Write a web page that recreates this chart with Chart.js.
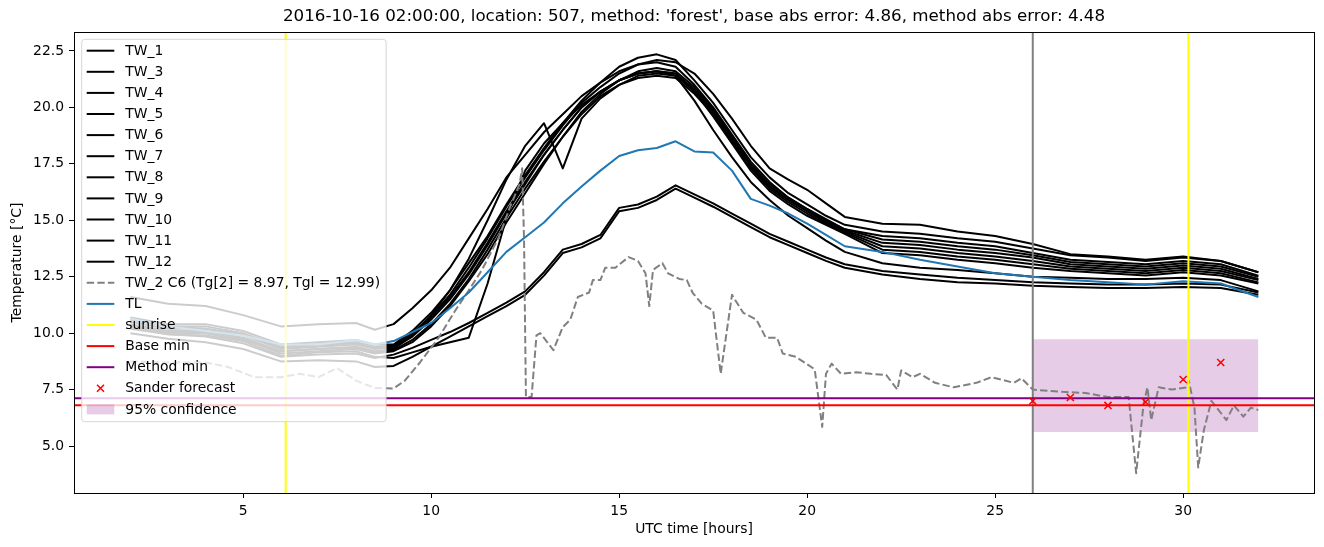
<!DOCTYPE html>
<html>
<head>
<meta charset="utf-8">
<script src="https://cdn.jsdelivr.net/npm/chart.js@4"></script>
<style>
  body { margin: 0; background: #fff; }
  canvas { display: block; }
</style>
</head>
<body>
<canvas id="chart" width="1324" height="547"></canvas>
<script>
// time grid (UTC hours) shared by the TW_x and TL series
const hours = [2, 3, 4, 5, 6, 7, 8, 8.5, 9, 9.5, 10, 10.5, 11, 11.5, 12, 12.5, 13, 13.5, 14, 14.5, 15, 15.5,
    16, 16.5, 17, 17.5, 18, 18.5, 19, 19.5, 20, 20.5, 21, 22, 23, 24, 25, 26, 27, 28, 29, 30, 31, 32];

const twLabels = ['TW_1', 'TW_3', 'TW_4', 'TW_5', 'TW_6', 'TW_7', 'TW_8', 'TW_9', 'TW_10', 'TW_11', 'TW_12'];

const tw1 = [11.6, 11.3, 11.2, 10.8, 10.3, 10.4, 10.45, 10.15, 10.4, 11.1, 11.9, 12.9, 14.2, 15.5, 16.9, 17.9, 18.9, 19.7,
    20.5, 21.1, 21.6, 21.9, 22.1, 22.0, 21.5, 20.6, 19.5, 18.3, 17.3, 16.8, 16.35, 15.75, 15.15, 14.85, 14.8, 14.5, 14.3,
    13.95, 13.5, 13.4, 13.25, 13.4, 13.2, 12.7];
const tw3 = [10.7, 10.4, 10.4, 10.1, 9.5, 9.6, 9.7, 9.5, 9.5, 10.1, 10.9, 11.9, 13.1, 14.3, 15.7, 17.0, 18.2, 19.3,
    20.3, 21.1, 21.8, 22.2, 22.35, 22.1, 21.2, 20.2, 19.0, 17.8, 16.9, 16.2, 15.7, 15.2, 14.8, 14.5, 14.4, 14.2, 14.05,
    13.75, 13.45, 13.35, 13.2, 13.35, 13.2, 12.7];
const tw4 = [10.6, 10.3, 10.3, 10.0, 9.4, 9.5, 9.6, 9.4, 9.45, 10.0, 10.75, 11.7, 12.9, 14.2, 15.6, 16.9, 18.1, 19.2,
    20.2, 20.9, 21.5, 21.9, 22.0, 21.8, 21.0, 20.0, 18.8, 17.6, 16.7, 16.0, 15.5, 15.0, 14.6, 14.3, 14.2, 14.0, 13.85,
    13.55, 13.25, 13.15, 13.05, 13.2, 13.05, 12.55];
const tw5 = [10.5, 10.2, 10.2, 9.9, 9.3, 9.4, 9.5, 9.3, 9.35, 9.85, 10.6, 11.5, 12.6, 13.9, 15.3, 16.6, 17.9, 19.0,
    20.0, 20.7, 21.2, 21.5, 21.6, 21.5, 20.8, 19.8, 18.6, 17.4, 16.5, 15.9, 15.4, 14.9, 14.5, 13.85, 13.75, 13.55, 13.4,
    13.2, 12.95, 12.85, 12.75, 12.9, 12.75, 12.35];
const tw6 = [10.4, 10.1, 10.1, 9.8, 9.2, 9.3, 9.4, 9.2, 9.25, 9.7, 10.4, 11.3, 12.4, 13.7, 15.1, 16.4, 17.6, 18.7,
    19.7, 20.5, 21.0, 21.3, 21.4, 21.3, 20.6, 19.7, 18.5, 17.3, 16.4, 15.8, 15.3, 14.85, 14.45, 13.7, 13.6, 13.4, 13.25,
    13.05, 12.85, 12.75, 12.65, 12.8, 12.65, 12.25];
const tw7 = [10.35, 10.05, 10.0, 9.75, 9.1, 9.2, 9.3, 9.1, 9.2, 9.6, 10.3, 11.2, 12.3, 13.5, 14.9, 16.2, 17.5, 18.7,
    19.8, 20.6, 21.2, 21.6, 21.75, 21.6, 20.9, 19.9, 18.7, 17.5, 16.6, 16.0, 15.5, 15.05, 14.6, 14.15, 14.05, 13.85, 13.7,
    13.45, 13.15, 13.05, 12.95, 13.1, 12.95, 12.5];
const tw8 = [10.2, 9.95, 9.9, 9.65, 9.0, 9.15, 9.2, 8.95, 8.9, 9.15, 9.4, 9.6, 9.8, 12.2, 15.1, 17.2, 18.4, 19.3,
    20.1, 20.7, 21.2, 21.5, 21.6, 21.5, 20.7, 19.6, 18.4, 17.2, 16.3, 15.7, 15.2, 14.8, 14.4, 13.55, 13.45, 13.25, 13.1,
    12.9, 12.75, 12.65, 12.55, 12.7, 12.55, 12.2];
const tw9 = [10.3, 10.0, 10.0, 9.7, 9.2, 9.3, 9.35, 9.15, 9.3, 9.9, 10.8, 11.9, 13.3, 15.0, 16.8, 18.3, 19.3, 17.3,
    19.5, 20.4, 21.0, 21.4, 21.5, 21.4, 20.7, 19.8, 18.6, 17.4, 16.5, 15.9, 15.4, 14.95, 14.55, 14.0, 13.9, 13.7, 13.55,
    13.35, 13.05, 12.95, 12.85, 13.0, 12.85, 12.4];
const tw10 = [10.6, 10.3, 10.2, 9.95, 9.35, 9.45, 9.55, 9.35, 9.4, 9.95, 10.7, 11.6, 12.7, 14.0, 15.4, 16.7, 17.9, 19.0,
    20.0, 20.7, 21.2, 21.5, 21.6, 21.4, 20.3, 19.0, 17.8, 16.7, 15.9, 15.2, 14.65, 14.1, 13.6, 13.1, 12.9, 12.8, 12.65,
    12.5, 12.45, 12.4, 12.4, 12.45, 12.35, 11.85];
const tw11 = [10.25, 9.95, 9.85, 9.55, 8.95, 9.05, 9.1, 8.9, 9.05, 9.35, 9.7, 10.05, 10.45, 10.9, 11.35, 11.85, 12.7, 13.7,
    13.95, 14.35, 15.55, 15.7, 16.05, 16.55, 16.15, 15.75, 15.3, 14.85, 14.4, 14.05, 13.7, 13.35, 13.05, 12.75, 12.6, 12.45,
    12.35, 12.25, 12.2, 12.15, 12.15, 12.2, 12.15, 11.8];
const tw12 = [10.0, 9.75, 9.6, 9.3, 8.75, 8.8, 8.75, 8.5, 8.55, 8.95, 9.4, 9.85, 10.3, 10.75, 11.2, 11.7, 12.55, 13.55,
    13.8, 14.2, 15.4, 15.55, 15.9, 16.4, 16.0, 15.6, 15.15, 14.7, 14.25, 13.9, 13.55, 13.2, 12.9, 12.6, 12.4, 12.25,
    12.2, 12.1, 12.05, 12.0, 12.0, 12.05, 12.0, 11.7];
const twValues = [tw1, tw3, tw4, tw5, tw6, tw7, tw8, tw9, tw10, tw11, tw12];

const tlTemps = [10.65, 10.3, 10.1, 9.9, 9.5, 9.5, 9.7, 9.5, 9.65, 10.05, 10.45, 11.1, 11.8, 12.7, 13.6, 14.25, 14.9, 15.75,
    16.5, 17.2, 17.85, 18.1, 18.2, 18.5, 18.05, 18.0, 17.2, 15.95, 15.65, 15.3, 14.85, 14.35, 13.85, 13.6, 13.25, 12.95,
    12.65, 12.5, 12.35, 12.25, 12.15, 12.3, 12.2, 11.6];

// TW_2 has its own, finer time axis
const tw2Label = 'TW_2 C6 (Tg[2] = 8.97, Tgl = 12.99)';
const tw2Hours = [2, 3, 4, 4.6, 5.3, 6, 6.5, 7, 7.5, 8, 8.5, 9, 9.3, 9.7, 10.2, 10.6, 11, 11.35, 11.8, 12.1, 12.35, 12.42,
    12.47, 12.52, 12.67, 12.8, 12.9, 13.25, 13.5, 13.7, 13.9, 14.2, 14.3, 14.5, 14.63, 14.9, 15.25, 15.5, 15.7, 15.8, 15.9,
    16.15, 16.3, 16.6, 16.8, 16.95, 17.2, 17.5, 17.7, 18.0, 18.3, 18.65, 18.9, 19.2, 19.35, 19.7, 20.2, 20.4, 20.5, 20.65,
    20.9, 21.3, 21.7, 22.1, 22.4, 22.5, 22.8, 23.0, 23.4, 23.9, 24.5, 24.9, 25.5, 25.7, 26.0, 26.8, 27.4, 28.0, 28.55,
    28.75, 28.95, 29.05, 29.15, 29.35, 29.7, 30.1, 30.15, 30.3, 30.4, 30.55, 30.75, 31.15, 31.35, 31.6, 31.8, 32];
const tw2Temps = [8.75, 8.7, 8.7, 8.5, 8.05, 8.05, 8.2, 8.05, 8.45, 7.9, 7.57, 7.55, 7.9, 8.7, 9.8, 10.9, 11.9, 12.8,
    14.25, 15.6, 16.6, 17.3, 14.1, 7.17, 7.17, 9.9, 10.0, 9.25, 10.27, 10.6, 11.6, 11.8, 12.35, 12.35, 12.9, 12.9, 13.37,
    13.2, 12.65, 11.2, 12.8, 13.1, 12.65, 12.4, 12.35, 11.8, 11.3, 11.0, 8.2, 11.7, 10.9, 10.6, 9.8, 9.8, 9.1, 8.95,
    8.4, 5.85, 8.2, 8.65, 8.2, 8.27, 8.2, 8.15, 7.5, 8.35, 8.05, 8.2, 7.8, 7.6, 7.8, 8.05, 7.8, 8.0, 7.5, 7.4, 7.35,
    7.17, 7.17, 3.8, 6.9, 7.6, 6.15, 7.6, 7.5, 7.6, 7.9, 6.7, 4.05, 5.7, 7.0, 6.15, 6.8, 6.3, 6.7, 6.6];

const sunriseHours = [6.13, 30.14];
const nowHour = 26;
const baseMin = 6.81;
const methodMin = 7.12;
const forecastHours = [26, 27, 28, 29, 30, 31];
const forecastTemps = [7.0, 7.15, 6.8, 6.95, 7.95, 8.7];
const confHours = [26, 32];
const confLow = 5.62;
const confHigh = 9.73;

const xMin = 0.5, xMax = 33.48;
const yMin = 2.92, yMax = 23.34;
const xTicks = [5, 10, 15, 20, 25, 30];
const yTicks = [5, 7.5, 10, 12.5, 15, 17.5, 20, 22.5];
const titleText = "2016-10-16 02:00:00, location: 507, method: 'forest', base abs error: 4.86, method abs error: 4.48";

const FONT = '"DejaVu Sans", "Liberation Sans", sans-serif';

function series(xs, ys) {
    return xs.map((x, i) => ({ x: x, y: ys[i] }));
}

const datasets = [];
twLabels.forEach((label, i) => {
    datasets.push({ label: label, data: series(hours, twValues[i]), borderColor: '#000000', borderWidth: 2, order: 9 });
});
datasets.push({ label: tw2Label, data: series(tw2Hours, tw2Temps), borderColor: '#808080', borderWidth: 2,
    borderDash: [7.4, 3.2], order: 8 });
datasets.push({ label: 'TL', data: series(hours, tlTemps), borderColor: '#1f77b4', borderWidth: 2, order: 7 });
datasets.push({ label: 'sunrise', borderColor: '#ffff00', borderWidth: 2, order: 6, spanGaps: false,
    data: [
        { x: sunriseHours[0], y: yMin }, { x: sunriseHours[0], y: yMax },
        { x: (sunriseHours[0] + sunriseHours[1]) / 2, y: null },
        { x: sunriseHours[1], y: yMin }, { x: sunriseHours[1], y: yMax }
    ] });
datasets.push({ label: 'Base min', data: [{ x: xMin, y: baseMin }, { x: xMax, y: baseMin }],
    borderColor: '#ff0000', borderWidth: 2, order: 5 });
datasets.push({ label: 'Method min', data: [{ x: xMin, y: methodMin }, { x: xMax, y: methodMin }],
    borderColor: '#800080', borderWidth: 2, order: 5 });
datasets.push({ label: 'Sander forecast', data: series(forecastHours, forecastTemps), showLine: false,
    pointStyle: 'crossRot', pointRadius: 5, pointBorderColor: '#ff0000', pointBorderWidth: 1.5, order: 3 });
datasets.push({ label: '95% confidence', data: [{ x: confHours[0], y: confHigh }, { x: confHours[1], y: confHigh }],
    fill: { value: confLow }, backgroundColor: 'rgba(128, 0, 128, 0.2)', borderColor: 'rgba(0,0,0,0)', borderWidth: 1, order: 10 });
datasets.push({ label: 'now', hideInLegend: true, data: [{ x: nowHour, y: yMin }, { x: nowHour, y: yMax }],
    borderColor: '#808080', borderWidth: 2, order: 6 });

// spines, title over the plot area and a matplotlib-style legend drawn on top of the lines
const framePlugin = {
    id: 'frameAndLegend',
    afterDatasetsDraw(chart) {
        const { ctx, chartArea } = chart;
        ctx.save();
        ctx.strokeStyle = '#000';
        ctx.lineWidth = 1;
        ctx.strokeRect(Math.round(chartArea.left) + 0.5, Math.round(chartArea.top) + 0.5,
            Math.round(chartArea.right - chartArea.left), Math.round(chartArea.bottom - chartArea.top));

        ctx.font = '16.7px ' + FONT;
        ctx.fillStyle = '#000';
        ctx.textAlign = 'center';
        ctx.textBaseline = 'middle';
        ctx.fillText(titleText, (chartArea.left + chartArea.right) / 2, 17);

        const items = chart.data.datasets.filter(d => !d.hideInLegend);
        const fs = 13.9;
        ctx.font = fs + 'px ' + FONT;
        const rowH = 21.1;
        const boxL = chartArea.left + 7.7;
        const boxT = chartArea.top + 7.3;
        const firstY = boxT + 11.4;
        const handleL = boxL + 5;
        const handleLen = 27.6;
        const textX = handleL + handleLen + 11;
        let maxW = 0;
        items.forEach(d => { maxW = Math.max(maxW, ctx.measureText(d.label).width); });
        const boxR = textX + maxW + 6;
        const boxB = firstY + (items.length - 1) * rowH + 12.3;

        ctx.beginPath();
        ctx.roundRect(boxL, boxT, boxR - boxL, boxB - boxT, 3);
        ctx.fillStyle = 'rgba(255,255,255,0.8)';
        ctx.fill();
        ctx.strokeStyle = 'rgba(204,204,204,0.8)';
        ctx.lineWidth = 1;
        ctx.stroke();

        items.forEach((d, i) => {
            const y = firstY + i * rowH;
            if (d.showLine === false) {
                const cx = handleL + handleLen / 2, r = 3.5;
                ctx.strokeStyle = d.pointBorderColor;
                ctx.lineWidth = 1.5;
                ctx.beginPath();
                ctx.moveTo(cx - r, y - r); ctx.lineTo(cx + r, y + r);
                ctx.moveTo(cx - r, y + r); ctx.lineTo(cx + r, y - r);
                ctx.stroke();
            } else if (d.fill) {
                ctx.fillStyle = d.backgroundColor;
                ctx.fillRect(handleL, y - 5, handleLen, 10);
            } else {
                ctx.strokeStyle = d.borderColor;
                ctx.lineWidth = d.borderWidth;
                ctx.setLineDash(d.borderDash || []);
                ctx.beginPath();
                ctx.moveTo(handleL, y);
                ctx.lineTo(handleL + handleLen, y);
                ctx.stroke();
                ctx.setLineDash([]);
            }
            ctx.fillStyle = '#000';
            ctx.textBaseline = 'middle';
            ctx.textAlign = 'left';
            ctx.fillText(d.label, textX, y + 0.5);
        });
        ctx.restore();
    }
};

new Chart(document.getElementById('chart').getContext('2d'), {
    type: 'line',
    data: { datasets: datasets },
    plugins: [framePlugin],
    options: {
        responsive: false,
        animation: false,
        events: [],
        layout: { padding: { left: 0, right: 10, top: 32, bottom: 0 } },
        elements: {
            point: { radius: 0 },
            line: { tension: 0, borderJoinStyle: 'round', borderCapStyle: 'butt' }
        },
        plugins: {
            legend: { display: false },
            tooltip: { enabled: false },
            title: { display: false }
        },
        scales: {
            x: {
                type: 'linear',
                min: xMin,
                max: xMax,
                afterBuildTicks: s => { s.ticks = xTicks.map(v => ({ value: v })); },
                afterFit: s => { s.height = 54; },
                ticks: { color: '#000', font: { family: FONT, size: 13.9 }, padding: 5, maxRotation: 0,
                    callback: v => String(v) },
                grid: { drawOnChartArea: false, tickLength: 5, color: '#000' },
                border: { display: false },
                title: { display: true, text: 'UTC time [hours]', color: '#000',
                    font: { family: FONT, size: 13.9 }, padding: { top: 0, bottom: 9.7 } }
            },
            y: {
                type: 'linear',
                min: yMin,
                max: yMax,
                afterBuildTicks: s => { s.ticks = yTicks.map(v => ({ value: v })); },
                afterFit: s => { s.width = 74; },
                ticks: { color: '#000', font: { family: FONT, size: 13.9 }, padding: 5,
                    callback: v => v.toFixed(1) },
                grid: { drawOnChartArea: false, tickLength: 5, color: '#000' },
                border: { display: false },
                title: { display: true, text: 'Temperature [°C]', color: '#000',
                    font: { family: FONT, size: 13.9 }, padding: { top: 8.7, bottom: 0 } }
            }
        }
    }
});
</script>
</body>
</html>
